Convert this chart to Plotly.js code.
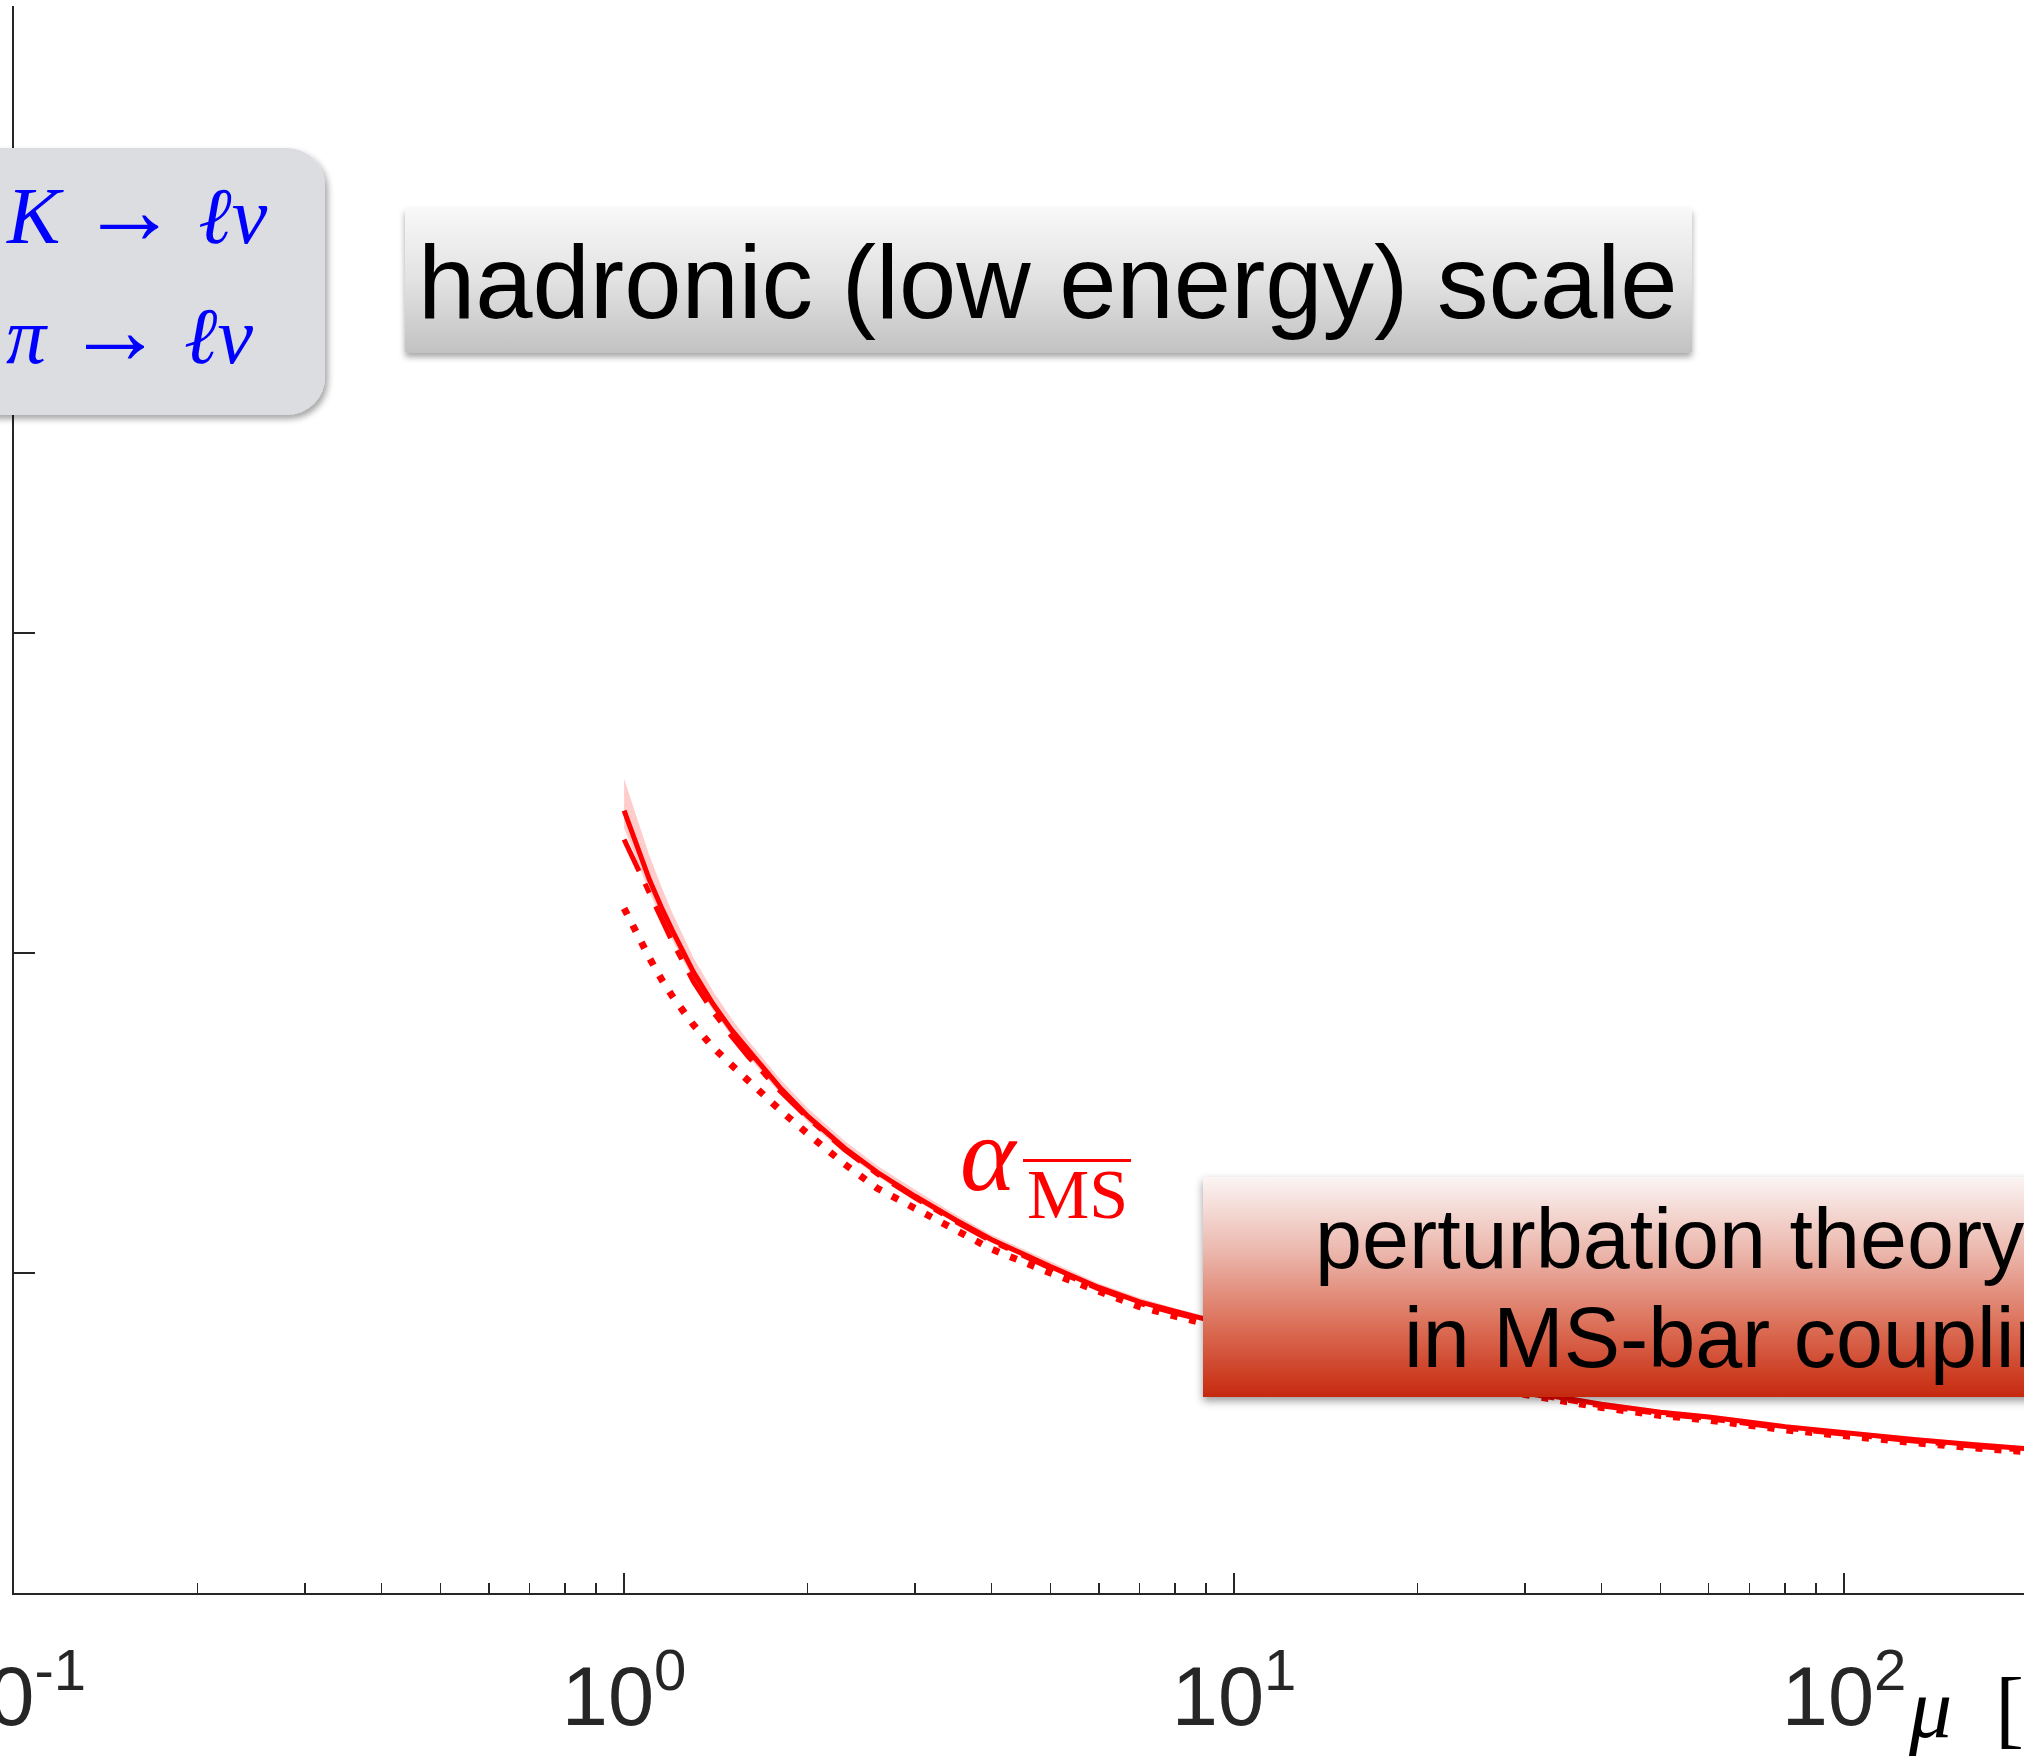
<!DOCTYPE html>
<html>
<head>
<meta charset="utf-8">
<script src="https://cdn.plot.ly/plotly-3.0.1.min.js"></script>
<style>
html,body{margin:0;padding:0;background:#ffffff;overflow:hidden}
#chart{width:2024px;height:1760px}
</style>
</head>
<body>
<div id="chart"></div>
<script>
// ---- data ----
const mu = [1, 1.05, 1.1, 1.15, 1.2, 1.3, 1.4, 1.5, 1.6, 1.8, 2, 2.3, 2.6, 3, 3.5, 4, 5, 6, 7, 8, 9, 10, 12, 15, 20, 25, 30, 40, 50, 60, 80, 100, 130, 160, 200, 220];
const alphaSolid = [0.489, 0.467, 0.446, 0.429, 0.414, 0.388, 0.368, 0.352, 0.339, 0.316, 0.298, 0.278, 0.263, 0.248, 0.233, 0.221, 0.204, 0.191, 0.182, 0.176, 0.171, 0.167, 0.159, 0.150, 0.140, 0.133, 0.126, 0.118, 0.113, 0.110, 0.104, 0.100, 0.096, 0.093, 0.090, 0.089];
const alphaDashed = [0.471, 0.454, 0.436, 0.421, 0.407, 0.382, 0.363, 0.348, 0.335, 0.314, 0.297, 0.277, 0.262, 0.247, 0.232, 0.220, 0.203, 0.190, 0.181, 0.175, 0.170, 0.166, 0.158, 0.149, 0.139, 0.132, 0.125, 0.117, 0.112, 0.109, 0.103, 0.099, 0.095, 0.092, 0.089, 0.088];
const alphaDotted = [0.428, 0.411, 0.397, 0.384, 0.373, 0.355, 0.341, 0.330, 0.320, 0.302, 0.287, 0.268, 0.253, 0.240, 0.226, 0.215, 0.200, 0.188, 0.179, 0.173, 0.168, 0.164, 0.157, 0.148, 0.138, 0.131, 0.124, 0.116, 0.111, 0.108, 0.102, 0.098, 0.094, 0.091, 0.088, 0.087];
const bandUpper = [0.509, 0.484, 0.461, 0.442, 0.425, 0.397, 0.376, 0.359, 0.345, 0.3215, 0.303, 0.2825, 0.267, 0.252, 0.2365, 0.224, 0.207, 0.1935, 0.1845, 0.178, 0.173, 0.169, 0.1605, 0.1515, 0.1415, 0.1345, 0.1275, 0.1195, 0.1145, 0.1115, 0.1055, 0.1015, 0.0975, 0.0945, 0.0915, 0.0905];
const bandLower = [0.478, 0.458, 0.438, 0.422, 0.408, 0.383, 0.364, 0.348, 0.335, 0.3125, 0.2945, 0.275, 0.2605, 0.2455, 0.231, 0.219, 0.2025, 0.1895, 0.1805, 0.1745, 0.1695, 0.1655, 0.1575, 0.1485, 0.1385, 0.1315, 0.1245, 0.1165, 0.1115, 0.1085, 0.1025, 0.0985, 0.0945, 0.0915, 0.0885, 0.0875];
const xTickVals = [0.1, 1, 10, 100];
const xTickText = ['10<sup>-1</sup>', '10<sup>0</sup>', '10<sup>1</sup>', '10<sup>2</sup>'];
const yTickVals = [0, 0.2, 0.4, 0.6, 0.8];
const labelHadronic = 'hadronic (low energy) scale';
const labelPert1 = 'perturbation theory';
const labelPert2 = 'in MS-bar coupling';
const arrowSpan = '<span style="font-size:98px">\u2192</span>';
const labelK = '<i>K</i>\u00a0' + arrowSpan + '\u00a0<i>\u2113\u03bd</i>';
const labelPi = '<i>\u03c0</i>\u00a0' + arrowSpan + '\u00a0<i>\u2113\u03bd</i>';
const labelAlpha = '<i>\u03b1</i>';
const labelMS = 'MS';
const labelMu = '<i>\u03bc</i>\u00a0\u00a0[GeV]';

// ---- geometry helpers (plot area in page pixels) ----
const L = 14, T = 6, W = 2010, H = 1587;
const px = x => (x - L) / W;
const py = y => (T + H - y) / H;

function boxImage(x0, y0, x1, y1, opts) {
  const pad = 24;
  const w = x1 - x0, h = y1 - y0;
  const iw = w + 2 * pad, ih = h + 2 * pad;
  const stops = opts.stops.map(s => `<stop offset="${s[0]}" stop-color="${s[1]}"/>`).join('');
  const svg = `<svg xmlns="http://www.w3.org/2000/svg" width="${iw}" height="${ih}" viewBox="0 0 ${iw} ${ih}" preserveAspectRatio="none">` +
    `<defs><linearGradient id="g" x1="0" y1="0" x2="0" y2="1">${stops}</linearGradient>` +
    `<filter id="s" x="-20%" y="-20%" width="140%" height="140%"><feDropShadow dx="${opts.dx}" dy="${opts.dy}" stdDeviation="${opts.blur}" flood-color="#000" flood-opacity="${opts.op}"/></filter></defs>` +
    `<rect x="${pad}" y="${pad}" width="${w}" height="${h}" rx="${opts.r}" ry="${opts.r}" fill="url(#g)" filter="url(#s)"/></svg>`;
  return {
    source: 'data:image/svg+xml;charset=utf-8,' + encodeURIComponent(svg),
    xref: 'paper', yref: 'paper',
    x: px(x0 - pad), y: py(y0 - pad),
    sizex: iw / W, sizey: ih / H,
    xanchor: 'left', yanchor: 'top',
    sizing: 'stretch', layer: 'above'
  };
}

const red = '#ff0000';
const traces = [
  {x: mu, y: bandLower, type: 'scatter', mode: 'lines', line: {width: 0, color: 'rgba(255,0,0,0)'}, hoverinfo: 'skip', showlegend: false},
  {x: mu, y: bandUpper, type: 'scatter', mode: 'lines', fill: 'tonexty', fillcolor: 'rgba(255,0,0,0.2)', line: {width: 0, color: 'rgba(255,0,0,0)'}, hoverinfo: 'skip', showlegend: false},
  {x: mu, y: alphaDotted, type: 'scatter', mode: 'lines', line: {color: red, width: 7, dash: '7px,12px'}, showlegend: false},
  {x: mu, y: alphaDashed, type: 'scatter', mode: 'lines', line: {color: red, width: 5, dash: '35px,14px,10px,15px'}, showlegend: false},
  {x: mu, y: alphaSolid, type: 'scatter', mode: 'lines', line: {color: red, width: 5}, showlegend: false}
];

const sans = 'Liberation Sans, Arial, Helvetica, sans-serif';
const serif = 'Liberation Serif, Times New Roman, DejaVu Serif, serif';

const layout = {
  width: 2024, height: 1760,
  margin: {l: L, r: 0, t: T, b: 1760 - T - H, pad: 0},
  paper_bgcolor: '#ffffff', plot_bgcolor: '#ffffff',
  showlegend: false,
  xaxis: {
    type: 'log', range: [-1.0002, 2.295], autorange: false,
    showgrid: false, zeroline: false,
    showline: true, linecolor: '#262626', linewidth: 2,
    tickmode: 'array', tickvals: xTickVals, ticktext: xTickText,
    ticks: 'inside', ticklen: 20, tickwidth: 1.5, tickcolor: '#262626',
    minor: {ticks: 'inside', ticklen: 10, tickwidth: 1.5, tickcolor: '#262626', dtick: 'D1', showgrid: false},
    tickfont: {family: sans, size: 83, color: '#262626'},
    ticklabelstandoff: 30,
    ticklabeloverflow: 'allow',
    automargin: false, fixedrange: true
  },
  yaxis: {
    range: [0, 0.992], autorange: false,
    showgrid: false, zeroline: false,
    showline: true, linecolor: '#262626', linewidth: 2,
    tickmode: 'array', tickvals: yTickVals,
    ticks: 'inside', ticklen: 21, tickwidth: 1.5, tickcolor: '#262626',
    showticklabels: false,
    automargin: false, fixedrange: true
  },
  images: [
    boxImage(-60, 148, 325, 415, {r: 38, dx: 3, dy: 4, blur: 3, op: 0.35, stops: [[0, '#dcdde0'], [1, '#dcdde0']]}),
    boxImage(405, 208, 1692, 353, {r: 2, dx: 0, dy: 4, blur: 3, op: 0.35, stops: [[0, '#f8f8f8'], [0.5, '#e2e2e2'], [1, '#c2c2c2']]}),
    boxImage(1203, 1177, 2120, 1397, {r: 0, dx: 0, dy: 4, blur: 4, op: 0.4, stops: [[0, '#fbf5f4'], [0.35, '#ebb5aa'], [0.7, '#da6a52'], [1, '#c6290e']]})
  ],
  shapes: [
    {type: 'line', xref: 'paper', yref: 'paper', x0: px(1023), x1: px(1131), y0: py(1160.5), y1: py(1160.5), line: {color: red, width: 3}, layer: 'above'}
  ],
  annotations: [
    {text: labelHadronic, xref: 'paper', yref: 'paper', x: px(1048), y: py(318 - 0.3465 * 103), xanchor: 'center', yanchor: 'middle', showarrow: false, font: {family: sans, size: 103, color: '#000000'}},
    {text: labelPert1, xref: 'paper', yref: 'paper', x: px(1313), y: py(1268 - 0.3465 * 84.5), xanchor: 'left', yanchor: 'middle', showarrow: false, font: {family: sans, size: 84.5, color: '#000000'}},
    {text: labelPert2, xref: 'paper', yref: 'paper', x: px(1402), y: py(1367 - 0.3465 * 84.5), xanchor: 'left', yanchor: 'middle', showarrow: false, font: {family: sans, size: 84.5, color: '#000000'}},
    {text: labelK, xref: 'paper', yref: 'paper', x: px(4), y: py(237 - 0.3375 * 80), xanchor: 'left', yanchor: 'middle', showarrow: false, font: {family: serif, size: 80, color: '#0000ff'}},
    {text: labelPi, xref: 'paper', yref: 'paper', x: px(4), y: py(357 - 0.3375 * 80), xanchor: 'left', yanchor: 'middle', showarrow: false, font: {family: serif, size: 80, color: '#0000ff'}},
    {text: labelAlpha, xref: 'paper', yref: 'paper', x: px(958), y: py(1190 - 0.3375 * 106), xanchor: 'left', yanchor: 'middle', showarrow: false, font: {family: serif, size: 106, color: red}},
    {text: labelMS, xref: 'paper', yref: 'paper', x: px(1025), y: py(1218 - 0.3375 * 70), xanchor: 'left', yanchor: 'middle', showarrow: false, font: {family: serif, size: 70, color: red}},
    {text: labelMu, xref: 'paper', yref: 'paper', x: px(1906), y: py(1737 - 0.3375 * 86), xanchor: 'left', yanchor: 'middle', showarrow: false, font: {family: serif, size: 86, color: '#000000'}}
  ]
};

Plotly.newPlot('chart', traces, layout, {staticPlot: true, displayModeBar: false});
</script>
</body>
</html>
